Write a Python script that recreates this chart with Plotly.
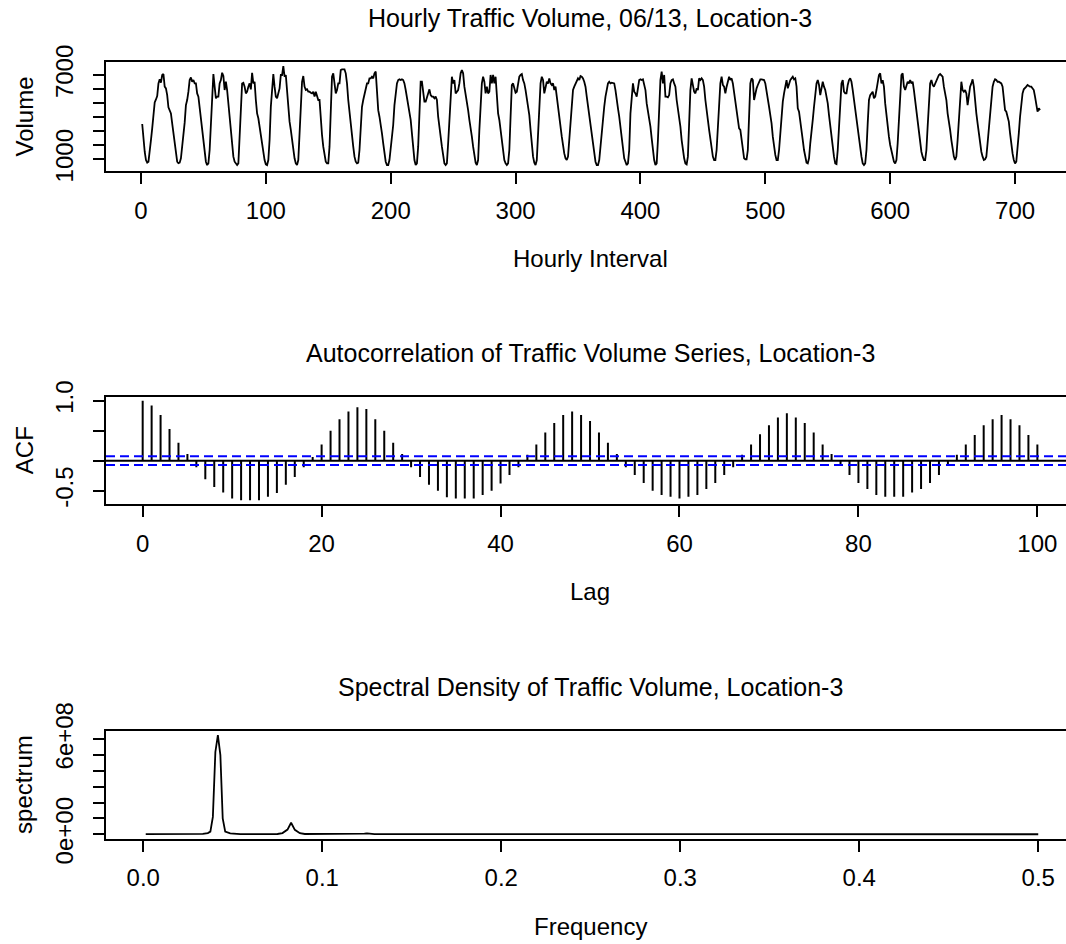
import plotly.graph_objects as go

# ---------------- data ----------------
# Hourly traffic volume, hours 1..720 (30 days x 24 hours)
day_00 = [3510, 2370, 1540, 950, 760, 830, 1420, 2370, 3200, 4150, 5050, 5260, 5500, 6400, 6690, 6450, 7000, 7070, 6170, 6050, 5570, 4700, 4500, 4270]
day_01 = [3560, 2850, 1900, 1190, 830, 720, 760, 1070, 1780, 2610, 3610, 4860, 5220, 5810, 6640, 6830, 6520, 6640, 6400, 6400, 5690, 5460, 4630, 3920]
day_02 = [3320, 2370, 1420, 830, 590, 710, 1660, 3320, 5220, 7070, 6170, 5340, 5460, 5460, 6400, 6640, 7160, 6930, 5930, 6520, 5930, 4980, 4270, 3500]
day_03 = [2300, 1190, 830, 650, 590, 710, 2850, 5460, 6400, 6450, 6170, 5690, 5810, 6170, 6400, 5980, 7160, 6400, 6520, 5220, 4270, 3920, 3320, 2610]
day_04 = [1900, 1310, 950, 640, 590, 950, 2370, 4740, 6400, 7070, 6170, 5460, 5340, 5690, 6050, 7000, 7000, 7640, 6880, 7000, 5690, 4270, 3680, 3090]
day_05 = [2370, 1660, 1070, 710, 590, 950, 2610, 4980, 6520, 6930, 6170, 5930, 5980, 5810, 5810, 5740, 5690, 5810, 5460, 5810, 5570, 5220, 5220, 3680]
day_06 = [2730, 1900, 1190, 830, 710, 710, 1900, 4740, 6880, 7120, 6400, 5690, 5930, 6400, 6400, 7350, 7400, 7400, 7400, 7120, 6400, 5220, 4270, 3440]
day_07 = [2610, 1900, 1190, 830, 710, 760, 1660, 3320, 4740, 5220, 5570, 6120, 6400, 6400, 6760, 6760, 6880, 6760, 7120, 7240, 5690, 4500, 4030, 3560]
day_08 = [2850, 2140, 1420, 830, 590, 590, 950, 1660, 2490, 3440, 4860, 5570, 6400, 6640, 6690, 6640, 6690, 6640, 6400, 5930, 5340, 4860, 4500, 3800]
day_09 = [2850, 1660, 950, 590, 710, 1900, 4500, 6520, 6520, 5690, 5100, 5100, 5460, 5690, 5980, 5570, 5460, 5460, 5340, 5460, 5220, 4030, 3090, 2610]
day_10 = [1900, 1190, 710, 590, 710, 2140, 4030, 5460, 6880, 6400, 6640, 5690, 5810, 5930, 6400, 7120, 7350, 7120, 6170, 5690, 5220, 4500, 3800, 3320]
day_11 = [2610, 1900, 1190, 760, 590, 950, 3090, 5220, 6400, 6880, 6520, 5690, 6170, 5690, 5810, 7000, 6400, 7000, 6400, 6880, 5460, 4270, 3800, 3090]
day_12 = [2370, 1660, 950, 710, 590, 710, 1660, 4030, 6290, 6400, 6050, 5740, 5810, 6400, 6880, 7000, 7070, 6640, 6400, 5930, 5340, 4980, 4150, 3090]
day_13 = [1900, 1190, 760, 590, 950, 2610, 4980, 6400, 6880, 6640, 5690, 6170, 6520, 6400, 6760, 6400, 6290, 6400, 5930, 6170, 5340, 4500, 4030, 3320]
day_14 = [2610, 1900, 1420, 1070, 950, 1190, 2370, 4030, 4980, 5930, 6170, 6400, 6640, 6760, 6640, 6930, 6880, 6760, 6520, 6170, 5460, 4740, 4030, 3440]
day_15 = [2850, 2140, 1310, 830, 590, 590, 950, 1900, 3090, 4150, 4740, 5460, 5930, 6400, 6520, 6400, 6450, 6400, 6400, 5930, 5100, 4630, 4030, 3200]
day_16 = [2370, 1660, 1070, 830, 590, 710, 1660, 4270, 5690, 6400, 5810, 5690, 5460, 5930, 6640, 6690, 6640, 6690, 6400, 5930, 4980, 4500, 4030, 3320]
day_17 = [2490, 1660, 950, 590, 710, 2370, 4740, 6640, 7240, 6400, 7000, 5460, 5460, 5410, 5570, 6400, 6640, 6690, 6400, 6170, 5220, 4630, 4270, 3320]
day_18 = [2370, 1660, 1070, 710, 640, 1190, 3560, 5930, 6760, 6290, 5810, 5690, 6050, 5930, 6760, 6640, 6760, 6640, 6170, 5220, 4270, 3800, 3090, 2370]
day_19 = [1660, 1190, 950, 950, 1660, 3560, 5460, 6400, 6880, 6290, 6170, 5690, 6170, 6520, 6880, 6640, 6760, 6400, 5690, 5220, 4270, 3800, 3200, 3090]
day_20 = [2260, 1420, 1070, 1000, 1000, 1660, 4030, 6400, 6760, 6640, 5220, 5690, 6050, 6290, 6520, 6690, 6690, 6640, 6640, 6400, 5930, 5220, 4740, 4150]
day_21 = [3560, 2610, 1900, 1310, 950, 950, 1660, 3090, 4500, 5100, 5690, 6170, 6640, 6050, 6400, 6640, 6760, 6880, 6690, 6760, 6170, 4630, 4390, 3800]
day_22 = [3090, 2370, 1660, 1070, 760, 710, 1070, 2140, 2850, 3800, 4740, 5460, 6400, 6640, 6290, 5570, 6170, 6520, 6170, 5930, 5460, 4980, 4150, 3320]
day_23 = [2610, 1900, 1190, 710, 660, 1660, 3560, 5220, 6400, 6640, 5810, 5690, 5690, 6290, 6640, 6760, 6520, 5930, 5220, 4500, 4030, 3320, 2610, 1780]
day_24 = [1190, 710, 590, 710, 1660, 3560, 5220, 5570, 5690, 5810, 5340, 5460, 5930, 6400, 7000, 7120, 6400, 6640, 6170, 4980, 4030, 3320, 2610, 2020]
day_25 = [1540, 1190, 830, 710, 950, 2140, 4030, 5930, 7000, 7120, 6170, 5930, 6170, 6520, 6400, 6640, 6400, 6520, 5930, 5220, 4270, 3560, 2850, 2140]
day_26 = [1540, 1190, 950, 950, 1660, 3320, 4980, 6400, 6640, 6290, 6170, 6400, 6520, 6880, 7000, 7070, 7000, 6880, 6170, 5690, 5220, 4270, 3800, 3090]
day_27 = [2370, 1660, 1190, 950, 1190, 2370, 4030, 5690, 6520, 5930, 5810, 5930, 5690, 4860, 5690, 6170, 6400, 6690, 6170, 4980, 4270, 3560, 2850, 2140]
day_28 = [1540, 1190, 950, 1000, 1190, 2140, 3320, 4500, 5220, 6170, 6520, 6690, 6640, 6520, 6520, 6450, 6400, 6170, 5460, 4500, 4390, 4030, 3680, 2850]
day_29 = [2020, 1420, 950, 710, 830, 1660, 2850, 4030, 4980, 5690, 5980, 6050, 6170, 6290, 6220, 6170, 6170, 6050, 5930, 5460, 4740, 4390, 4630, 4500]

days = [day_00, day_01, day_02, day_03, day_04, day_05, day_06, day_07, day_08, day_09,
        day_10, day_11, day_12, day_13, day_14, day_15, day_16, day_17, day_18, day_19,
        day_20, day_21, day_22, day_23, day_24, day_25, day_26, day_27, day_28, day_29]
volume = [v for d in days for v in d]
hours = list(range(1, len(volume) + 1))

# Autocorrelation, lags 0..100
acf_values = [1.0, 0.92, 0.76, 0.53, 0.30, 0.11, -0.11, -0.31, -0.44, -0.53,
              -0.63, -0.66, -0.66, -0.66, -0.60, -0.54, -0.40, -0.27, -0.11, 0.06,
              0.27, 0.50, 0.69, 0.82, 0.89, 0.86, 0.69, 0.50, 0.30, 0.11,
              -0.11, -0.27, -0.40, -0.50, -0.61, -0.63, -0.63, -0.63, -0.57, -0.50,
              -0.38, -0.24, -0.11, 0.10, 0.27, 0.47, 0.63, 0.76, 0.82, 0.76,
              0.66, 0.47, 0.30, 0.11, -0.11, -0.24, -0.37, -0.50, -0.57, -0.60,
              -0.63, -0.60, -0.57, -0.47, -0.37, -0.24, -0.11, 0.10, 0.27, 0.44,
              0.59, 0.72, 0.79, 0.72, 0.63, 0.47, 0.27, 0.11, -0.06, -0.24,
              -0.37, -0.47, -0.57, -0.60, -0.60, -0.60, -0.53, -0.47, -0.37, -0.24,
              -0.07, 0.10, 0.27, 0.43, 0.59, 0.69, 0.76, 0.69, 0.59, 0.43, 0.27]
acf_lags = list(range(len(acf_values)))
acf_ci = 0.073

# Spectral density
spec_freq = [0.0014, 0.0300, 0.0333, 0.0361, 0.0375, 0.0389, 0.0403, 0.0417, 0.0431, 0.0444,
             0.0458, 0.0486, 0.0514, 0.0542, 0.0750, 0.0778, 0.0806, 0.0826, 0.0847, 0.0875,
             0.0903, 0.1208, 0.1236, 0.1250, 0.1264, 0.1292, 0.5000]
spec_val = [1.0e6, 1.0e6, 3.0e6, 8.0e6, 1.7e7, 1.1e8, 5.2e8, 6.26e8, 5.0e8, 1.0e8,
            1.7e7, 6.0e6, 3.0e6, 1.0e6, 2.0e6, 8.0e6, 3.0e7, 7.3e7, 2.8e7, 7.0e6,
            2.0e6, 1.0e6, 4.0e6, 6.0e6, 4.0e6, 1.0e6, 5.0e5]

vol_ticks = [1000, 2000, 3000, 4000, 5000, 6000, 7000]
vol_ticktext = ["1000", "", "", "", "", "", "7000"]
hour_ticks = [0, 100, 200, 300, 400, 500, 600, 700]
acf_yticks = [-0.5, 0.0, 0.5, 1.0]
acf_yticktext = ["-0.5", "", "", "1.0"]
lag_ticks = [0, 20, 40, 60, 80, 100]
spec_yticks = [0, 1e8, 2e8, 3e8, 4e8, 5e8, 6e8]
spec_yticktext = ["0e+00", "", "", "", "", "", "6e+08"]
freq_ticks = [0.0, 0.1, 0.2, 0.3, 0.4, 0.5]
freq_ticktext = ["0.0", "0.1", "0.2", "0.3", "0.4", "0.5"]

# ---------------- figure ----------------
W, H = 1066, 944
FONT = "Liberation Sans, Arial, Helvetica, sans-serif"
FS = 24
FS_TITLE = 25


def py(ypx):
    return 1 - ypx / H


def px(xpx):
    return xpx / W


panels = [(62.3, 170.7), (396.7, 503.7), (731.3, 838.5)]
xdom = [px(106), 1.0]
XC = 590

fig = go.Figure()

fig.add_trace(go.Scatter(x=hours, y=volume, mode="lines",
                         line=dict(color="black", width=1.8),
                         xaxis="x", yaxis="y", showlegend=False, hoverinfo="skip"))

acf_x, acf_y = [], []
for lag, val in zip(acf_lags, acf_values):
    acf_x += [lag, lag, None]
    acf_y += [0, val, None]
fig.add_trace(go.Scatter(x=acf_x, y=acf_y, mode="lines",
                         line=dict(color="black", width=2),
                         xaxis="x2", yaxis="y2", showlegend=False, hoverinfo="skip"))

fig.add_trace(go.Scatter(x=spec_freq, y=spec_val, mode="lines",
                         line=dict(color="black", width=1.8),
                         xaxis="x3", yaxis="y3", showlegend=False, hoverinfo="skip"))

axis_common = dict(showline=True, linecolor="black", linewidth=2, ticks="outside",
                   ticklen=11, tickwidth=2, tickcolor="black", showgrid=False,
                   zeroline=False, automargin=False,
                   tickfont=dict(family=FONT, size=FS, color="black"))
XSO = 6   # x tick label standoff
YSO = 10  # y tick label standoff

fig.update_layout(
    template="none",
    width=W, height=H, margin=dict(l=0, r=0, t=0, b=0, pad=0), autosize=False,
    paper_bgcolor="white", plot_bgcolor="white", showlegend=False,
    xaxis=dict(domain=xdom, anchor="y", range=[-28.0, 740.8], tickvals=hour_ticks,
               mirror=True, ticklabelstandoff=XSO, **axis_common),
    yaxis=dict(domain=[py(panels[0][1]), py(panels[0][0])], anchor="x",
               range=[189, 7904], tickvals=vol_ticks, ticktext=vol_ticktext,
               tickangle=-90, ticklabelstandoff=YSO, **axis_common),
    xaxis2=dict(domain=xdom, anchor="y2", range=[-4.1, 103.2], tickvals=lag_ticks,
                mirror=True, ticklabelstandoff=XSO, **axis_common),
    yaxis2=dict(domain=[py(panels[1][1]), py(panels[1][0])], anchor="x2",
                range=[-0.7167, 1.0667], tickvals=acf_yticks, ticktext=acf_yticktext,
                tickangle=-90, ticklabelstandoff=YSO, **axis_common),
    xaxis3=dict(domain=xdom, anchor="y3", range=[-0.0208, 0.5155], tickvals=freq_ticks,
                ticktext=freq_ticktext, mirror=True, ticklabelstandoff=XSO, **axis_common),
    yaxis3=dict(domain=[py(panels[2][1]), py(panels[2][0])], anchor="x3",
                range=[-0.265e8, 6.507e8], tickvals=spec_yticks, ticktext=spec_yticktext,
                tickangle=-90, ticklabelstandoff=YSO, **axis_common),
)

# ACF zero line and confidence bounds
fig.add_shape(type="line", xref="x2 domain", yref="y2", x0=0, x1=1, y0=0, y1=0,
              line=dict(color="black", width=2))
for c in (acf_ci, -acf_ci):
    fig.add_shape(type="line", xref="x2 domain", yref="y2", x0=0, x1=1, y0=c, y1=c,
                  line=dict(color="#0000FF", width=2, dash="9px,5px"))

titles = ["Hourly Traffic Volume, 06/13, Location-3",
          "Autocorrelation of Traffic Volume Series, Location-3",
          "Spectral Density of Traffic Volume, Location-3"]
xlabels = ["Hourly Interval", "Lag", "Frequency"]
ylabels = ["Volume", "ACF", "spectrum"]

for (top, bot), t, xl, yl in zip(panels, titles, xlabels, ylabels):
    fig.add_annotation(text=t, xref="paper", yref="paper", x=px(XC), y=py(top - 44),
                       xanchor="center", yanchor="middle", showarrow=False,
                       font=dict(family=FONT, size=FS_TITLE, color="black"))
    fig.add_annotation(text=xl, xref="paper", yref="paper", x=px(XC), y=py(bot + 88),
                       xanchor="center", yanchor="middle", showarrow=False,
                       font=dict(family=FONT, size=FS, color="black"))
    fig.add_annotation(text=yl, xref="paper", yref="paper", x=px(24), y=py((top + bot) / 2),
                       xanchor="center", yanchor="middle", showarrow=False, textangle=-90,
                       font=dict(family=FONT, size=FS, color="black"))

fig.write_html("out.html", config={"displayModeBar": False},
               post_script="document.body.style.margin='0';document.body.style.overflow='hidden';")
